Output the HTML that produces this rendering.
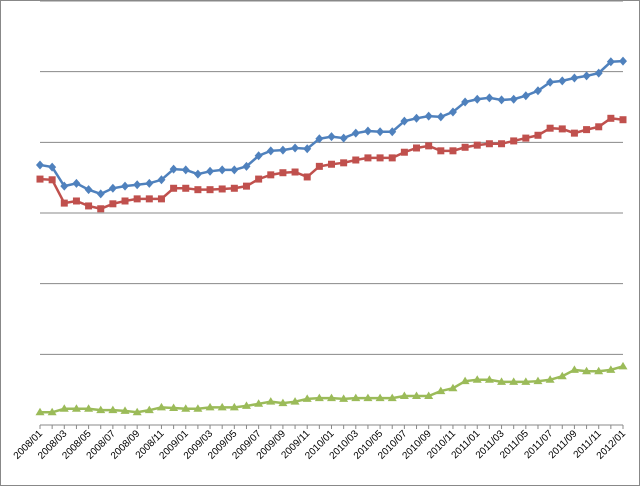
<!DOCTYPE html>
<html><head><meta charset="utf-8"><style>
body{margin:0;background:#fff}
svg{display:block;font-family:"Liberation Sans",sans-serif}
</style></head><body>
<svg id="chart" width="640" height="486"></svg>
<script>
const months=[];for(let y=2008;y<=2012;y++)for(let m=1;m<=12;m++){if(y===2012&&m>1)break;months.push(y+'/'+(m<10?'0':'')+m);}
const seriesBlue=[36.8,36.5,33.8,34.2,33.3,32.7,33.5,33.8,34.0,34.2,34.7,36.2,36.1,35.5,35.9,36.1,36.1,36.6,38.1,38.8,38.9,39.2,39.1,40.5,40.8,40.6,41.3,41.6,41.5,41.5,43.0,43.4,43.7,43.6,44.3,45.7,46.1,46.3,46.0,46.1,46.6,47.3,48.5,48.7,49.1,49.4,49.8,51.4,51.5];
const seriesRed=[34.8,34.7,31.4,31.7,31.0,30.6,31.3,31.7,32.0,32.0,32.0,33.5,33.5,33.3,33.3,33.4,33.5,33.8,34.8,35.4,35.7,35.8,35.1,36.6,36.9,37.1,37.5,37.8,37.8,37.8,38.6,39.2,39.5,38.8,38.8,39.3,39.6,39.8,39.8,40.2,40.6,41.0,42.0,41.9,41.3,41.8,42.2,43.4,43.2];
const seriesGreen=[1.8,1.8,2.3,2.3,2.3,2.1,2.1,2.0,1.8,2.1,2.5,2.4,2.3,2.3,2.5,2.5,2.5,2.7,3.0,3.3,3.1,3.3,3.7,3.8,3.8,3.7,3.8,3.8,3.8,3.8,4.1,4.1,4.1,4.8,5.2,6.2,6.4,6.4,6.1,6.1,6.1,6.2,6.4,6.9,7.8,7.6,7.6,7.8,8.3];
const yTicks=[0,10,20,30,40,50,60];
const NS='http://www.w3.org/2000/svg';
const svg=document.getElementById('chart');
const X0=40,X1=623,Y0=425,Y1=1,YMAX=60;
const xs=i=>X0+(X1-X0)*i/(months.length-1);
const ys=v=>Y0-(Y0-Y1)*v/YMAX;
function mk(t,a,p){const e=document.createElementNS(NS,t);for(const k in a)e.setAttribute(k,a[k]);(p||svg).appendChild(e);return e;}
const border=mk('rect',{x:0.5,y:0.5,width:639,height:485,fill:'#fff',stroke:'#888'});


yTicks.forEach(t=>{if(t===0)return;const g=mk('line',{x1:X0,x2:X1,y1:ys(t),y2:ys(t),stroke:'#888','stroke-width':1});

});
const ax=mk('line',{x1:X0,x2:X1,y1:Y0,y2:Y0,stroke:'#888'});


months.forEach((m,i)=>{const x=xs(i);
const tk=mk('line',{x1:x,x2:x,y1:Y0,y2:Y0+4,stroke:'#888'});


if(i%2===0){const t=mk('text',{x:x+3,y:Y0+9,'font-size':10,'text-anchor':'end',fill:'#000',transform:'rotate(-45 '+(x+3)+' '+(Y0+9)+')'});t.textContent=m;

}});
function series(data,color,shape,name){
const g=mk('g',{});


const pl=mk('polyline',{points:data.map((v,i)=>xs(i)+','+ys(v)).join(' '),fill:'none',stroke:color,'stroke-width':2.5},g);


data.forEach((v,i)=>{const x=xs(i),y=ys(v);let e;
if(shape==='d')e=mk('polygon',{points:`${x},${y-4.5} ${x+4},${y} ${x},${y+4.5} ${x-4},${y}`,fill:color},g);
else if(shape==='s')e=mk('rect',{x:x-3.5,y:y-3.5,width:7,height:7,fill:color},g);
else e=mk('polygon',{points:`${x},${y-4.5} ${x+4.5},${y+3} ${x-4.5},${y+3}`,fill:color},g);

});}
series(seriesGreen,'#9bbb59','t','series-green');
series(seriesRed,'#c0504d','s','series-red');
series(seriesBlue,'#4f81bd','d','series-blue');
</script>
</body></html>
